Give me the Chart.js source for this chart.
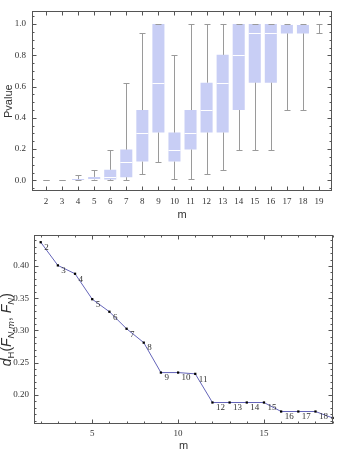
<!DOCTYPE html>
<html><head><meta charset="utf-8">
<script src="https://cdn.jsdelivr.net/npm/chart.js@4/dist/chart.umd.min.js"></script>
<style>
html,body{margin:0;padding:0;background:#fff;width:341px;height:453px;overflow:hidden;}
#w1{position:absolute;left:0;top:0;width:341px;height:225px;}
#w2{position:absolute;left:0;top:225px;width:341px;height:228px;}
</style></head><body>
<div id="w1"><canvas id="c1"></canvas></div>
<div id="w2"><canvas id="c2"></canvas></div>
<script>
// ---- Top chart: box plot of p-values per m ----
const mValues     = [2, 3, 4, 5, 6, 7, 8, 9, 10, 11, 12, 13, 14, 15, 16, 17, 18, 19];
const whiskerLow  = [0, 0, 0, 0, 0, 0, 0.04, 0.12, 0.01, 0.01, 0.04, 0.068, 0.197, 0.197, 0.197, 0.45, 0.45, 0.94];
const boxLow      = [0, 0, 0.002, 0.005, 0.006, 0.02, 0.12, 0.306, 0.12, 0.197, 0.306, 0.306, 0.45, 0.625, 0.625, 0.94, 0.94, 1.0];
const medians     = [0, 0.001, 0.005, 0.01, 0.02, 0.12, 0.306, 0.625, 0.197, 0.306, 0.45, 0.625, 0.803, 0.94, 0.94, 1.0, 1.0, 1.0];
const boxHigh     = [0, 0.002, 0.008, 0.022, 0.068, 0.197, 0.45, 1.0, 0.306, 0.45, 0.625, 0.803, 1.0, 1.0, 1.0, 1.0, 1.0, 1.0];
const whiskerHigh = [0.001, 0.004, 0.035, 0.068, 0.197, 0.625, 0.94, 1.0, 0.803, 1.0, 1.0, 1.0, 1.0, 1.0, 1.0, 1.0, 1.0, 1.0];

// ---- Bottom chart: distance d_H(F_{N,m}, F_N) per m ----
const distM      = [2, 3, 4, 5, 6, 7, 8, 9, 10, 11, 12, 13, 14, 15, 16, 17, 18, 19];
const distValues = [0.437, 0.401, 0.388, 0.3485, 0.329, 0.3026, 0.281, 0.2345, 0.2345, 0.2325, 0.188, 0.188, 0.188, 0.188, 0.174, 0.174, 0.174, 0.164];

const FRAME = '#555555';
const TICKFONT = {family: 'Liberation Serif', size: 9};
const TITLEFONT = {family: 'Liberation Sans', size: 11};

function rangeTicks(min, max, step) {
  const out = [];
  for (let v = Math.ceil(min / step - 1e-9) * step; v <= max + 1e-9; v += step) out.push(v);
  return out;
}

const framePlugin = {
  id: 'frame',
  afterDraw(chart, args, o) {
    const {ctx, chartArea: a, scales} = chart;
    const xs = scales.x, ys = scales.y;
    ctx.save();
    ctx.strokeStyle = FRAME; ctx.lineWidth = 1;
    const L = Math.round(a.left) + 0.5, R = Math.round(a.right) - 0.5;
    const T = Math.round(a.top) + 0.5, B = Math.round(a.bottom) - 0.5;
    ctx.strokeRect(L, T, R - L, B - T);
    ctx.beginPath();
    const xt = (step, len) => rangeTicks(xs.min, xs.max, step).forEach(v => {
      const p = Math.round(xs.getPixelForValue(v)) + 0.5;
      ctx.moveTo(p, B); ctx.lineTo(p, B - len);
      ctx.moveTo(p, T); ctx.lineTo(p, T + len);
    });
    const yt = (step, len) => rangeTicks(ys.min, ys.max, step).forEach(v => {
      const p = Math.round(ys.getPixelForValue(v)) + 0.5;
      ctx.moveTo(L, p); ctx.lineTo(L + len, p);
      ctx.moveTo(R, p); ctx.lineTo(R - len, p);
    });
    if (o.xMinor) xt(o.xMinor, 2);
    xt(o.xMajor, 4);
    if (o.yMinor) yt(o.yMinor, 2);
    yt(o.yMajor, 4);
    ctx.stroke();
    ctx.restore();
  }
};

const boxPlugin = {
  id: 'boxExtras',
  afterDatasetsDraw(chart) {
    const {ctx} = chart;
    const ys = chart.scales.y;
    const meta = chart.getDatasetMeta(0);
    ctx.save();
    // medians
    ctx.strokeStyle = '#ffffff'; ctx.lineWidth = 1;
    ctx.beginPath();
    meta.data.forEach((bar, i) => {
      if (boxHigh[i] - boxLow[i] <= 0) return;
      const p = Math.round(ys.getPixelForValue(medians[i])) + 0.5;
      ctx.moveTo(bar.x - bar.width / 2, p); ctx.lineTo(bar.x + bar.width / 2, p);
    });
    ctx.stroke();
    // whiskers
    ctx.strokeStyle = '#9a9a9a';
    ctx.beginPath();
    meta.data.forEach((bar, i) => {
      const x = Math.round(bar.x) + 0.5;
      const cap = bar.width / 4;
      const yLo = Math.round(ys.getPixelForValue(whiskerLow[i])) + 0.5;
      const yBl = ys.getPixelForValue(boxLow[i]);
      const yBh = ys.getPixelForValue(boxHigh[i]);
      const yHi = Math.round(ys.getPixelForValue(whiskerHigh[i])) + 0.5;
      ctx.moveTo(x, yLo); ctx.lineTo(x, yBl);
      ctx.moveTo(x, yBh); ctx.lineTo(x, yHi);
      ctx.moveTo(x - cap, yLo); ctx.lineTo(x + cap, yLo);
      ctx.moveTo(x - cap, yHi); ctx.lineTo(x + cap, yHi);
    });
    ctx.stroke();
    ctx.restore();
  }
};

new Chart(document.getElementById('c1'), {
  type: 'bar',
  data: {
    datasets: [{
      data: mValues.map((m, i) => ({x: m, y: [boxLow[i], boxHigh[i]]})),
      backgroundColor: 'rgb(200,206,245)',
      borderWidth: 0,
      barPercentage: 0.75,
      categoryPercentage: 1.0
    }]
  },
  options: {
    responsive: true, maintainAspectRatio: false, animation: false, devicePixelRatio: 1,
    layout: {padding: {left: 0, right: 9, top: 6, bottom: 0}},
    plugins: {legend: {display: false}, tooltip: {enabled: false},
      frame: {xMajor: 1, yMajor: 0.2, yMinor: 0.05}},
    scales: {
      x: {
        type: 'linear', min: 1.128, max: 19.81, offset: false,
        grid: {display: false, drawTicks: false}, border: {display: false},
        ticks: {stepSize: 1, includeBounds: false, autoSkip: false, maxRotation: 0,
          font: TICKFONT, color: '#333', padding: 5, callback: v => String(v)},
        title: {display: true, text: 'm', font: TITLEFONT, color: '#333', padding: {top: 0, bottom: 3}},
        afterFit: s => { s.height = 34; }
      },
      y: {
        type: 'linear', min: -0.068, max: 1.081, beginAtZero: false,
        grid: {display: false, drawTicks: false}, border: {display: false},
        ticks: {stepSize: 0.2, includeBounds: false, font: TICKFONT, color: '#333', padding: 6,
          callback: v => Number(v).toFixed(1)},
        title: {display: true, text: 'Pvalue', font: TITLEFONT, color: '#333', padding: {top: 2, bottom: 0}},
        afterFit: s => { s.width = 32; }
      }
    }
  },
  plugins: [boxPlugin, framePlugin]
});

const pointLabelPlugin = {
  id: 'pointLabels',
  afterDatasetsDraw(chart) {
    const {ctx, chartArea: a} = chart;
    const meta = chart.getDatasetMeta(0);
    ctx.save();
    ctx.beginPath(); ctx.rect(a.left, a.top, a.right - a.left, a.bottom - a.top); ctx.clip();
    ctx.font = '9px "Liberation Serif"'; ctx.fillStyle = '#333';
    ctx.textAlign = 'left'; ctx.textBaseline = 'middle';
    meta.data.forEach((pt, i) => ctx.fillText(String(distM[i]), pt.x + 3.5, pt.y + 5.5));
    ctx.restore();
  }
};

const yTitlePlugin = {
  id: 'richYTitle',
  afterDraw(chart) {
    const {ctx, chartArea: a} = chart;
    const big = 14, small = 9.5;
    const parts = [
      {t: 'd', s: big, it: true, dy: 0},
      {t: 'H', s: small, it: false, dy: 3},
      {t: '(', s: big, it: false, dy: 0},
      {t: 'F', s: big, it: true, dy: 0},
      {t: 'N,m', s: small, it: true, dy: 3},
      {t: ', ', s: big, it: false, dy: 0},
      {t: 'F', s: big, it: true, dy: 0},
      {t: 'N', s: small, it: true, dy: 3},
      {t: ')', s: big, it: false, dy: 0}
    ];
    const fontOf = p => (p.it ? 'italic ' : '') + p.s + 'px "Liberation Sans"';
    let total = 0;
    parts.forEach(p => { ctx.font = fontOf(p); p.w = ctx.measureText(p.t).width; total += p.w; });
    ctx.save();
    ctx.translate(11, (a.top + a.bottom) / 2);
    ctx.rotate(-Math.PI / 2);
    ctx.fillStyle = '#333'; ctx.textBaseline = 'alphabetic'; ctx.textAlign = 'left';
    let x = -total / 2;
    parts.forEach(p => { ctx.font = fontOf(p); ctx.fillText(p.t, x, p.dy); x += p.w; });
    ctx.restore();
  }
};

new Chart(document.getElementById('c2'), {
  type: 'line',
  data: {
    datasets: [{
      data: distM.map((m, i) => ({x: m, y: distValues[i]})),
      borderColor: 'rgb(100,100,185)',
      borderWidth: 1,
      pointStyle: 'rect',
      pointRadius: 1.6,
      pointBackgroundColor: '#000',
      pointBorderColor: '#000',
      pointBorderWidth: 0,
      tension: 0,
      clip: false
    }]
  },
  options: {
    responsive: true, maintainAspectRatio: false, animation: false, devicePixelRatio: 1,
    layout: {padding: {left: 0, right: 8, top: 10, bottom: 0}},
    plugins: {legend: {display: false}, tooltip: {enabled: false},
      frame: {xMajor: 5, xMinor: 1, yMajor: 0.05, yMinor: 0.01}},
    scales: {
      x: {
        type: 'linear', min: 1.61, max: 19.02,
        grid: {display: false, drawTicks: false}, border: {display: false},
        ticks: {stepSize: 5, includeBounds: false, autoSkip: false, maxRotation: 0,
          font: TICKFONT, color: '#333', padding: 4, callback: v => String(v)},
        title: {display: true, text: 'm', font: TITLEFONT, color: '#333', padding: {top: 0, bottom: 0}},
        afterFit: s => { s.height = 29; }
      },
      y: {
        type: 'linear', min: 0.1546, max: 0.4476,
        grid: {display: false, drawTicks: false}, border: {display: false},
        ticks: {stepSize: 0.05, includeBounds: false, font: TICKFONT, color: '#333', padding: 5,
          callback: v => Number(v).toFixed(2)},
        title: {display: false},
        afterFit: s => { s.width = 34; }
      }
    }
  },
  plugins: [pointLabelPlugin, yTitlePlugin, framePlugin]
});
</script>
</body></html>
